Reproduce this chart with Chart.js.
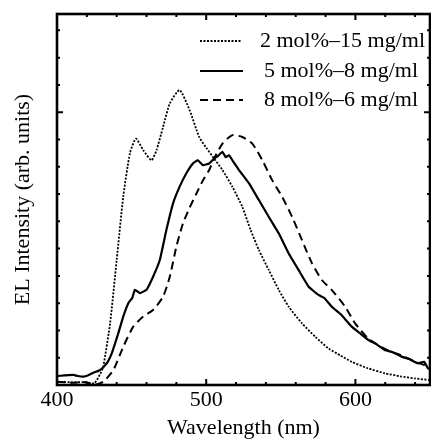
<!DOCTYPE html>
<html>
<head>
<meta charset="utf-8">
<script src="https://cdn.jsdelivr.net/npm/chart.js@4/dist/chart.umd.min.js"></script>
<style>
  html, body { margin: 0; padding: 0; background: #fff; }
  canvas { display: block; }
</style>
</head>
<body>
<canvas id="c" width="431" height="446"></canvas>
<script>
// ---- Data ----
const seriesLabels = ['2 mol%\u201315 mg/ml', '5 mol%\u20138 mg/ml', '8 mol%\u20136 mg/ml'];

// 2 mol% - 15 mg/ml (dotted)
const wl2 = [400, 410, 420, 425, 428.9, 431, 435.6, 440, 444.4, 448.9, 452.9, 457.8, 463.3, 466.7, 471.1, 475.6, 482.2, 488.9, 495.3, 500, 505.3, 510.9, 517.6, 524.2, 529.8, 535.3, 542, 548.7, 555.3, 564.2, 573.1, 582, 590, 597.5, 608, 619.8, 630, 640, 650];
const em2 = [0.012, 0.010, 0.010, 0.006, 0.040, 0.067, 0.227, 0.458, 0.690, 0.850, 0.903, 0.861, 0.824, 0.861, 0.946, 1.032, 1.081, 1.007, 0.909, 0.870, 0.830, 0.788, 0.726, 0.653, 0.568, 0.495, 0.421, 0.348, 0.287, 0.226, 0.177, 0.134, 0.108, 0.085, 0.062, 0.043, 0.032, 0.024, 0.018];

// 5 mol% - 8 mg/ml (solid)
const wl5 = [400, 405, 411, 414, 417.8, 421, 424.4, 428, 431, 434, 436.7, 441.1, 444.4, 447.8, 450.5, 452.2, 455.6, 460, 464.4, 468.9, 473.3, 477.8, 482.2, 486.7, 491.1, 494.4, 497.8, 502, 505.3, 508, 510.9, 513, 515.3, 518, 522, 528.7, 535.3, 542, 548.7, 555.3, 562, 568.7, 575.3, 579, 584.2, 590, 597.5, 603, 608.7, 614, 619.8, 625, 630.9, 636, 642, 646, 648.7, 650];
const em5 = [0.033, 0.035, 0.037, 0.033, 0.031, 0.036, 0.045, 0.052, 0.065, 0.085, 0.116, 0.190, 0.251, 0.300, 0.320, 0.349, 0.337, 0.349, 0.397, 0.458, 0.568, 0.666, 0.727, 0.776, 0.812, 0.824, 0.806, 0.812, 0.830, 0.840, 0.855, 0.835, 0.842, 0.820, 0.788, 0.739, 0.678, 0.616, 0.555, 0.482, 0.421, 0.360, 0.330, 0.320, 0.287, 0.260, 0.214, 0.190, 0.165, 0.150, 0.128, 0.120, 0.104, 0.095, 0.079, 0.085, 0.061, 0.058];

// 8 mol% - 6 mg/ml (dashed)
const wl8 = [400, 410, 420, 424.4, 431, 437.8, 444.4, 451.1, 457.8, 464.4, 471.1, 475.6, 480, 484.4, 488.9, 493.3, 497.8, 502, 505.3, 510.9, 517.6, 524.2, 530.9, 537.6, 544.2, 550.9, 557.6, 564.2, 570.9, 577.5, 584.2, 593.1, 599.8, 608.7, 619.8, 630.9, 642, 650];
const em8 = [0.012, 0.008, 0.010, 0.000, 0.012, 0.055, 0.140, 0.214, 0.251, 0.275, 0.324, 0.397, 0.507, 0.592, 0.650, 0.700, 0.750, 0.788, 0.830, 0.885, 0.916, 0.909, 0.885, 0.824, 0.751, 0.690, 0.616, 0.531, 0.446, 0.385, 0.348, 0.287, 0.226, 0.170, 0.132, 0.108, 0.082, 0.065];

// Axis ticks
const xLabelValues = [400, 500, 600];
const xMinorTicks = [420, 440, 460, 480, 500, 520, 540, 560, 580, 600, 620, 640];
const xMajorTicks = [500, 600];
const yMinorTicks = [0.1, 0.2, 0.3, 0.4, 0.5, 0.6, 0.7, 0.8, 0.9, 1.0, 1.1, 1.2, 1.3];
const yMajorTicks = [1.0];

const toPts = (xs, ys) => xs.map((x, i) => ({ x: x, y: ys[i] }));

const SERIF = '"Liberation Serif", "Times New Roman", serif';

const framePlugin = {
  id: 'frameTicks',
  afterDatasetsDraw(chart) {
    const { ctx, chartArea: a, scales } = chart;
    const xs = scales.x, ys = scales.y;
    ctx.save();
    ctx.strokeStyle = '#000';
    ctx.lineCap = 'butt';
    ctx.lineWidth = 2;
    yMinorTicks.forEach(v => {
      const py = ys.getPixelForValue(v);
      const len = yMajorTicks.includes(v) ? 6 : 3;
      ctx.beginPath();
      ctx.moveTo(a.left, py); ctx.lineTo(a.left + len, py);
      ctx.moveTo(a.right, py); ctx.lineTo(a.right - len, py);
      ctx.stroke();
    });
    xMinorTicks.forEach(v => {
      const px = xs.getPixelForValue(v);
      const len = xMajorTicks.includes(v) ? 6 : 3;
      ctx.beginPath();
      ctx.moveTo(px, a.bottom); ctx.lineTo(px, a.bottom - len);
      ctx.moveTo(px, a.top); ctx.lineTo(px, a.top + len);
      ctx.stroke();
    });
    ctx.lineWidth = 2.6;
    ctx.strokeRect(a.left, a.top, a.right - a.left, a.bottom - a.top);
    ctx.restore();
  },
  afterDraw(chart) {
    const { ctx } = chart;
    const rows = [
      { y: 41, x1: 200, x2: 241, tx: 260 },
      { y: 71, x1: 200, x2: 243, tx: 264 },
      { y: 100, x1: 200, x2: 243, tx: 264 }
    ];
    ctx.save();
    chart.data.datasets.forEach((ds, i) => {
      const r = rows[i];
      ctx.strokeStyle = '#000';
      ctx.lineWidth = ds.borderWidth;
      ctx.setLineDash(ds.borderDash || []);
      ctx.beginPath();
      ctx.moveTo(r.x1, r.y); ctx.lineTo(r.x2, r.y);
      ctx.stroke();
      ctx.setLineDash([]);
      ctx.fillStyle = '#000';
      ctx.font = '22px ' + SERIF;
      ctx.textBaseline = 'middle';
      ctx.textAlign = 'left';
      ctx.fillText(ds.label, r.tx, r.y);
    });
    ctx.restore();
  }
};

new Chart(document.getElementById('c'), {
  type: 'line',
  data: {
    datasets: [
      { label: seriesLabels[0], data: toPts(wl2, em2), borderColor: '#000', borderWidth: 1.8, borderDash: [2, 1.5], pointRadius: 0, tension: 0.2, fill: false },
      { label: seriesLabels[1], data: toPts(wl5, em5), borderColor: '#000', borderWidth: 2.2, borderDash: [], pointRadius: 0, tension: 0.1, fill: false },
      { label: seriesLabels[2], data: toPts(wl8, em8), borderColor: '#000', borderWidth: 2, borderDash: [8, 5], pointRadius: 0, tension: 0.2, fill: false }
    ]
  },
  options: {
    responsive: false,
    animation: false,
    devicePixelRatio: 1,
    layout: { padding: { top: 14, right: 1, left: 0, bottom: 0 } },
    plugins: { legend: { display: false }, tooltip: { enabled: false } },
    scales: {
      x: {
        type: 'linear',
        min: 400,
        max: 650,
        afterFit: s => { s.height = 61; },
        afterBuildTicks: s => { s.ticks = xLabelValues.map(v => ({ value: v })); },
        grid: { display: false, drawTicks: false },
        border: { display: false },
        ticks: { color: '#000', font: { family: SERIF, size: 22 }, padding: 2, maxRotation: 0, autoSkip: false },
        title: { display: true, text: 'Wavelength (nm)', color: '#000', font: { family: SERIF, size: 22 }, padding: { top: 0, bottom: 5 } }
      },
      y: {
        type: 'linear',
        min: 0,
        max: 1.36,
        afterFit: s => { s.width = 57; },
        grid: { display: false, drawTicks: false },
        border: { display: false },
        ticks: { display: false },
        title: { display: true, text: 'EL Intensity (arb. units)', color: '#000', font: { family: SERIF, size: 22 }, padding: { top: 10, bottom: 0 } }
      }
    }
  },
  plugins: [framePlugin]
});
</script>
</body>
</html>
